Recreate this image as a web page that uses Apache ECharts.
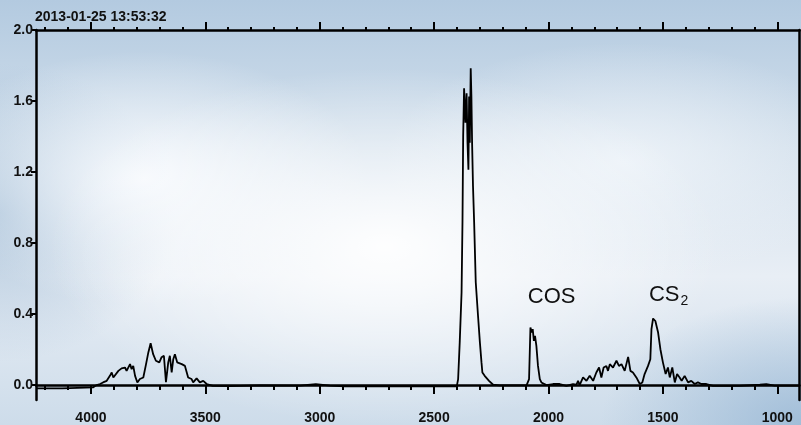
<!DOCTYPE html>
<html>
<head>
<meta charset="utf-8">
<script src="https://cdn.jsdelivr.net/npm/echarts@6/dist/echarts.min.js"></script>
<style>
  html, body { margin: 0; padding: 0; }
  #main {
    width: 801px;
    height: 425px;
    background:
      radial-gradient(ellipse 42% 42% at 48% 58%, rgba(255,255,255,0.95), rgba(255,255,255,0) 100%),
      radial-gradient(ellipse 28% 30% at 18% 42%, rgba(250,252,255,0.9), rgba(250,252,255,0) 100%),
      radial-gradient(ellipse 30% 28% at 78% 38%, rgba(240,245,250,0.85), rgba(240,245,250,0) 100%),
      radial-gradient(ellipse 22% 35% at 0% 50%, rgba(150,180,208,0.7), rgba(150,180,208,0) 100%),
      radial-gradient(ellipse 25% 30% at 100% 100%, rgba(150,182,212,0.8), rgba(150,182,212,0) 100%),
      linear-gradient(180deg, #b3cae0 0%, #d3e0ec 35%, #e8eef5 65%, #cddcea 100%);
  }
</style>
</head>
<body>
<div id="main"></div>
<script>
var timestamp = "2013-01-25 13:53:32";

// spectrum (wavenumber cm-1, absorbance)
var wavenumber = [
  4240, 4126, 4122, 3991, 3975, 3960, 3947, 3931, 3917, 3909, 3902, 3895, 3880, 3866, 3851, 3844,
  3829, 3822, 3815, 3807, 3797, 3786, 3771, 3759, 3749, 3739, 3728, 3716, 3701, 3691, 3681, 3672,
  3662, 3655, 3647, 3640, 3633, 3623, 3603, 3589, 3575, 3560, 3553, 3538, 3524, 3509, 3494, 3467,
  3392, 3261, 3087, 3017, 2956, 2890, 2650, 2401,
  2395, 2388, 2380, 2376, 2373, 2369, 2363, 2358, 2354, 2350, 2347, 2344, 2340, 2337, 2334, 2330,
  2325, 2318, 2308, 2300, 2293, 2289, 2279, 2260, 2242, 2213, 2096,
  2091, 2085, 2079, 2073, 2069, 2064, 2059, 2053, 2046, 2038, 2031, 2009, 1980, 1951, 1922, 1893,
  1878, 1871, 1864, 1849, 1834, 1820, 1805, 1791, 1779, 1769, 1759, 1747, 1740, 1732, 1718, 1703,
  1692, 1681, 1667, 1652, 1642, 1631, 1616, 1601, 1590, 1580, 1565, 1555, 1550, 1543, 1533, 1521,
  1511, 1500, 1488, 1478, 1470, 1459, 1448, 1438, 1427, 1418, 1405, 1390, 1376, 1361, 1347, 1332,
  1310, 1281, 1165, 1076, 1048, 1012, 903
];
var absorbance = [
  -0.019, -0.019, -0.008, -0.013, 0.000, 0.006, 0.015, 0.024, 0.052, 0.071, 0.043, 0.052, 0.080, 0.094, 0.099, 0.080,
  0.118, 0.090, 0.108, 0.052, 0.015, 0.034, 0.043, 0.118, 0.184, 0.236, 0.174, 0.137, 0.128, 0.157, 0.165, 0.017,
  0.128, 0.165, 0.071, 0.146, 0.174, 0.128, 0.118, 0.108, 0.043, 0.034, 0.015, 0.038, 0.015, 0.024, 0.006, -0.004,
  -0.006, -0.002, -0.003, 0.006, -0.003, -0.007, -0.007, -0.007,
  0.034, 0.242, 0.522, 0.916, 1.401, 1.672, 1.478, 1.644, 1.365, 1.213, 1.625, 1.365, 1.785, 1.625, 1.365, 1.120,
  0.916, 0.579, 0.389, 0.242, 0.129, 0.071, 0.052, 0.024, 0.002, -0.002, -0.002,
  -0.003, 0.034, 0.324, 0.296, 0.315, 0.249, 0.277, 0.221, 0.108, 0.034, 0.015, 0.000, 0.006, 0.006, -0.004, 0.006,
  0.002, 0.024, 0.000, 0.043, 0.024, 0.052, 0.024, 0.071, 0.099, 0.043, 0.099, 0.108, 0.080, 0.118, 0.099, 0.137,
  0.108, 0.118, 0.080, 0.159, 0.080, 0.071, 0.043, 0.006, 0.015, 0.062, 0.108, 0.146, 0.315, 0.375, 0.361, 0.296,
  0.202, 0.128, 0.062, 0.099, 0.043, 0.099, 0.015, 0.062, 0.043, 0.024, 0.052, 0.015, 0.024, 0.006, 0.015, 0.006,
  0.006, -0.004, -0.004, 0.002, 0.006, -0.003, -0.003
];

var xMajorTicks = [4000, 3500, 3000, 2500, 2000, 1500, 1000];
var xMinorTicks = [4200, 4100, 4000, 3900, 3800, 3700, 3600, 3500, 3400, 3300, 3200, 3100, 3000,
  2900, 2800, 2700, 2600, 2500, 2400, 2300, 2200, 2100, 2000, 1900, 1800, 1700, 1600, 1500,
  1400, 1300, 1200, 1100, 1000];
var yTicks = [0, 0.4, 0.8, 1.2, 1.6, 2.0];

var peakLabels = [
  { name: "COS", wn: 1986, y: 0.494 },
  { name: "CS2", wn: 1475, y: 0.506 }
];

var spectrum = wavenumber.map(function (w, i) { return [w, absorbance[i]]; });

var labelFont = {
  color: "#111",
  fontFamily: "Liberation Sans",
  fontWeight: "bold",
  fontSize: 14
};
var axisLineStyle = { color: "#000", width: 2.5 };

function xAxisBase(extra) {
  var a = {
    type: "value",
    min: 903,
    max: 4240,
    inverse: true,
    splitLine: { show: false },
    axisLine: { show: false, lineStyle: axisLineStyle },
    axisLabel: { show: false },
    axisTick: { show: true }
  };
  for (var k in extra) a[k] = extra[k];
  return a;
}

var chart = echarts.init(document.getElementById("main"));
var option = {
  animation: false,
  grid: { left: 36, right: 1.5, top: 30, bottom: 24 },
  graphic: [
    {
      type: "text",
      left: 35,
      top: 10,
      style: {
        text: timestamp,
        fill: "#111",
        font: "bold 14px 'Liberation Sans'"
      }
    }
  ],
  xAxis: [
    xAxisBase({
      position: "bottom",
      offset: 0,
      axisLine: { show: true, lineStyle: axisLineStyle },
      axisTick: { show: true, customValues: xMinorTicks, length: 5, lineStyle: { color: "#000", width: 2 } },
      axisLabel: Object.assign({
        show: true,
        customValues: xMajorTicks,
        margin: 11,
        formatter: function (v) { return String(v); }
      }, labelFont)
    }),
    xAxisBase({
      position: "bottom",
      offset: 0,
      axisTick: { show: true, customValues: xMajorTicks, length: 9, lineStyle: { color: "#000", width: 2 } }
    }),
    xAxisBase({
      position: "top",
      offset: 0,
      axisLine: { show: true, lineStyle: axisLineStyle },
      axisTick: { show: true, customValues: xMinorTicks, length: 3, lineStyle: { color: "#000", width: 2 } }
    }),
    xAxisBase({
      position: "top",
      offset: 0,
      axisTick: { show: true, customValues: xMajorTicks, length: 8, lineStyle: { color: "#000", width: 2 } }
    })
  ],
  yAxis: [
    {
      type: "value",
      min: -0.084,
      max: 2.0,
      position: "left",
      splitLine: { show: false },
      axisLine: { show: true, lineStyle: axisLineStyle },
      axisTick: { show: true, customValues: yTicks, length: 5, lineStyle: { color: "#000", width: 2 } },
      axisLabel: Object.assign({
        customValues: yTicks,
        margin: 3,
        formatter: function (v) { return v.toFixed(1); }
      }, labelFont)
    },
    {
      type: "value",
      min: -0.084,
      max: 2.0,
      position: "right",
      splitLine: { show: false },
      axisLine: { show: true, lineStyle: axisLineStyle },
      axisTick: { show: false },
      axisLabel: { show: false }
    }
  ],
  series: [
    {
      type: "line",
      xAxisIndex: 0,
      yAxisIndex: 0,
      data: spectrum,
      showSymbol: false,
      symbol: "none",
      lineStyle: { color: "#000", width: 1.8 },
      markPoint: {
        symbol: "circle",
        symbolSize: 1,
        itemStyle: { color: "rgba(0,0,0,0)" },
        label: {
          show: true,
          position: "inside",
          color: "#111",
          fontFamily: "Liberation Sans",
          fontSize: 22,
          formatter: function (p) {
            return p.name === "CS2" ? "{a|CS}{s|2}" : "{a|" + p.name + "}";
          },
          rich: {
            a: { fontFamily: "Liberation Sans", fontSize: 22, color: "#111" },
            s: { fontFamily: "Liberation Sans", fontSize: 14, color: "#111", padding: [12, 0, 0, 1] }
          }
        },
        data: peakLabels.map(function (p) {
          return { name: p.name, coord: [p.wn, p.y] };
        })
      }
    }
  ]
};
chart.setOption(option);
</script>
</body>
</html>
